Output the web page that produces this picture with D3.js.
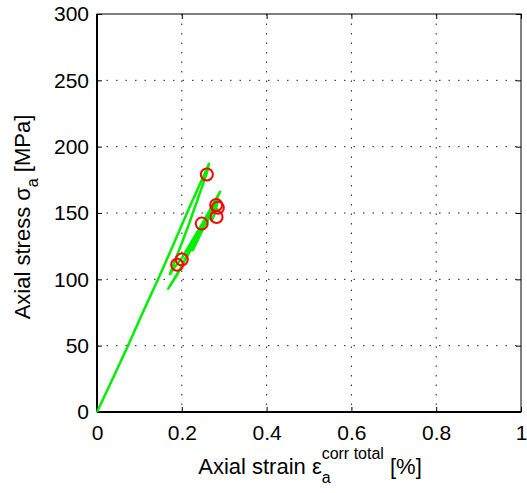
<!DOCTYPE html>
<html><head><meta charset="utf-8">
<script src="https://cdn.jsdelivr.net/npm/d3@7"></script>
<style>body{margin:0;background:#fff}svg{display:block}text{font-family:"Liberation Sans",Arial,sans-serif;fill:#000}</style>
</head><body><svg id="c" width="527" height="493"></svg>
<script>
// Green stress-strain curve (strain %, stress MPa)
const strain = [0,0.037,0.073,0.108,0.144,0.18,0.215,0.25,0.264,0.259,0.215,0.172,0.183,0.2,0.25,0.29,0.24,0.2,0.168,0.19,0.247,0.283,0.26,0.226,0.25,0.282,0.286,0.278,0.27,0.284];
const stress = [0,25,50,75,100,126,152,177,187,180,140,104,109,116,143,166,133,110,93,104,141,161,146,122,138,156,160,150,144,154];
// Red circle markers
const markStrain = [0.259,0.2,0.189,0.247,0.281,0.285,0.282];
const markStress = [179,115,111,142,156,154,147];
const xTicks = [0,0.2,0.4,0.6,0.8,1];
const xTickLabels = ["0","0.2","0.4","0.6","0.8","1"];
const yTicks = [0,50,100,150,200,250,300];

const svg = d3.select("#c");
const L=97,R=521,T=14,B=412;
const x = d3.scaleLinear().domain([0,1]).range([L,R]);
const y = d3.scaleLinear().domain([0,300]).range([B,T]);

// grid
const g = svg.append("g");
xTicks.forEach(t=>{ if(t>0&&t<1) g.append("line").attr("x1",x(t)).attr("x2",x(t)).attr("y1",T).attr("y2",B).attr("stroke","#222").attr("stroke-width",1).attr("stroke-dasharray","1.5,8"); });
yTicks.forEach(t=>{ if(t>0&&t<300) g.append("line").attr("x1",L).attr("x2",R).attr("y1",y(t)).attr("y2",y(t)).attr("stroke","#222").attr("stroke-width",1).attr("stroke-dasharray","1.5,8"); });

// axes
const xa = svg.append("g").attr("transform",`translate(0,${B})`)
  .call(d3.axisBottom(x).tickValues(xTicks).tickFormat((d,i)=>xTickLabels[i]).tickSizeInner(-5).tickSizeOuter(0).tickPadding(13));
const ya = svg.append("g").attr("transform",`translate(${L},0)`)
  .call(d3.axisLeft(y).tickValues(yTicks).tickSizeInner(-5).tickSizeOuter(0).tickPadding(8));
[xa,ya].forEach(a=>{a.selectAll("text").style("font-size","21px").style("font-family","'Liberation Sans',Arial,sans-serif");a.select(".domain").remove();a.selectAll(".tick line").attr("stroke","#000");});
// mirrored ticks
const xt = svg.append("g").attr("transform",`translate(0,${T})`).call(d3.axisTop(x).tickValues(xTicks).tickFormat("").tickSizeInner(-5).tickSizeOuter(0));
const yr = svg.append("g").attr("transform",`translate(${R},0)`).call(d3.axisRight(y).tickValues(yTicks).tickFormat("").tickSizeInner(-5).tickSizeOuter(0));
[xt,yr].forEach(a=>a.select(".domain").remove());
svg.append("rect").attr("x",L).attr("y",T).attr("width",R-L).attr("height",B-T).attr("fill","none").attr("stroke","#000").attr("stroke-width",1);
svg.append("line").attr("x1",L).attr("x2",R).attr("y1",B).attr("y2",B).attr("stroke","#000").attr("stroke-width",2);
svg.append("line").attr("x1",L).attr("x2",L).attr("y1",T).attr("y2",B).attr("stroke","#000").attr("stroke-width",2);

// data curve
const line = d3.line().x((d,i)=>x(strain[i])).y((d,i)=>y(stress[i]));
svg.append("path").attr("d",line(strain)).attr("fill","none").attr("stroke","#00ee00").attr("stroke-width",2.5).attr("stroke-linejoin","round");
svg.selectAll("circle.m").data(markStrain).enter().append("circle")
  .attr("cx",d=>x(d)).attr("cy",(d,i)=>y(markStress[i])).attr("r",6)
  .attr("fill","none").attr("stroke","#ff0000").attr("stroke-width",2);

// labels
const xl = svg.append("text").attr("x",310).attr("y",474).attr("text-anchor","middle").style("font-size","22px");
xl.append("tspan").text("Axial strain ε");
xl.append("tspan").attr("dy",9).style("font-size","16px").text("a");
xl.append("tspan").attr("dx",-9).attr("dy",-24).style("font-size","16px").text("corr total");
xl.append("tspan").attr("dy",15).text(" [%]");
const yl = svg.append("text").attr("transform","translate(30,217) rotate(-90)").attr("text-anchor","middle").style("font-size","22px");
yl.append("tspan").text("Axial stress σ");
yl.append("tspan").attr("dy",8).style("font-size","16px").text("a");
yl.append("tspan").attr("dy",-8).text(" [MPa]");
</script></body></html>
